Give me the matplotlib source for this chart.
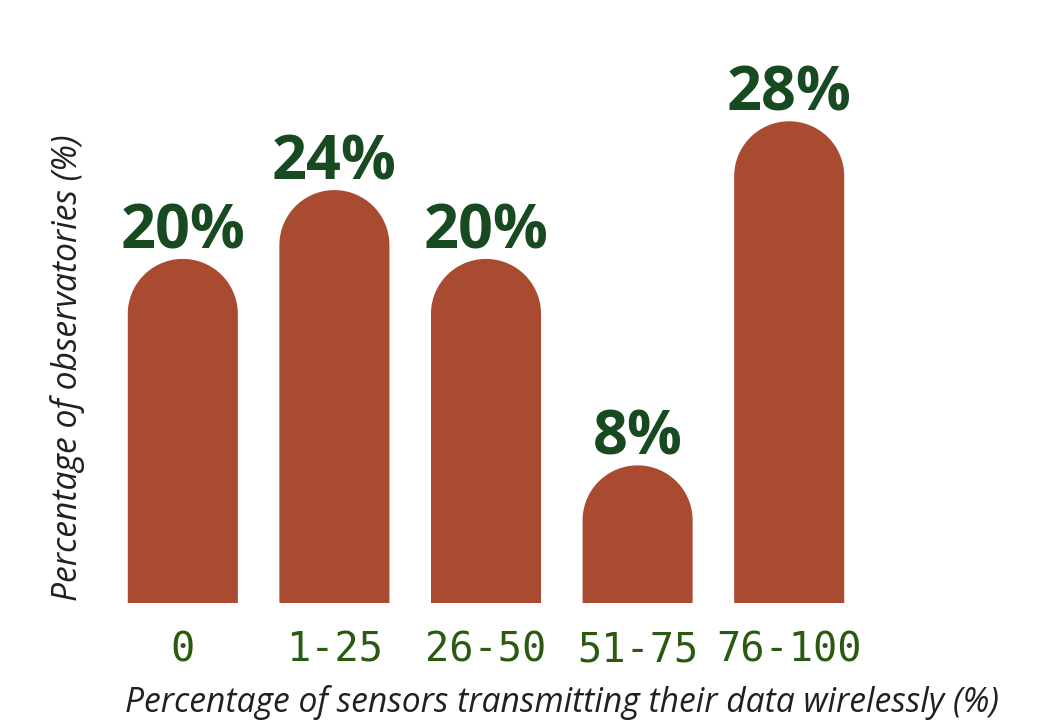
import matplotlib
matplotlib.use("Agg")
import numpy as np
import matplotlib.pyplot as plt
from matplotlib.patches import Polygon

categories = ["0", "1-25", "26-50", "51-75", "76-100"]
values = [20, 24, 20, 8, 28]
labels = ["20%", "24%", "20%", "8%", "28%"]

BAR_COLOR = "#A84B30"
VAL_COLOR = "#174A20"
TICK_COLOR = "#2A5A10"
TEXT_COLOR = "#231F20"

fig = plt.figure(figsize=(10.61, 7.22), dpi=100)
ax = fig.add_axes([107/1061, 119/722, 758/1061, 523/722])
ax.set_xlim(-0.5, len(categories) - 0.5)
ax.set_ylim(0, 30.4)
for s in ax.spines.values():
    s.set_visible(False)
ax.set_yticks([])

width = 0.726
# pixel scale to keep tops semicircular
fig.canvas.draw()
p0 = ax.transData.transform((0, 0))
p1 = ax.transData.transform((1, 1))
px_x = p1[0] - p0[0]
px_y = p1[1] - p0[1]
r_px = width * px_x / 2
r_y = r_px / px_y

theta = np.linspace(np.pi, 0, 90)
for i, v in enumerate(values):
    h = v - r_y
    arc_x = i + (width / 2) * np.cos(theta)
    arc_y = h + r_y * np.sin(theta)
    xs = np.concatenate([[i - width/2], arc_x, [i + width/2]])
    ys = np.concatenate([[0], arc_y, [0]])
    ax.add_patch(Polygon(np.column_stack([xs, ys]), closed=True,
                         facecolor=BAR_COLOR, edgecolor="none", linewidth=0))
    ax.annotate(labels[i], (i, v), xytext=(0, 7.5), textcoords="offset points",
                ha="center", va="baseline", fontsize=44, fontweight="bold",
                family="Open Sans", color=VAL_COLOR)

ax.set_xticks(range(len(categories)))
ax.set_xticklabels(categories, family="DejaVu Sans Mono", fontsize=29, color=TICK_COLOR)
ax.tick_params(axis="x", length=0, pad=20)

fig.text(562/1061, 1 - 702/722, "Percentage of sensors transmitting their data wirelessly (%)",
         ha="center", va="center", fontsize=24.2, style="italic", family="Open Sans",
         color=TEXT_COLOR)
fig.text(68/1061, 1 - 368/722, "Percentage of observatories (%)", rotation=90,
         ha="center", va="center", fontsize=24.2, style="italic", family="Open Sans",
         color=TEXT_COLOR)

fig.savefig("out.png", dpi=100)
